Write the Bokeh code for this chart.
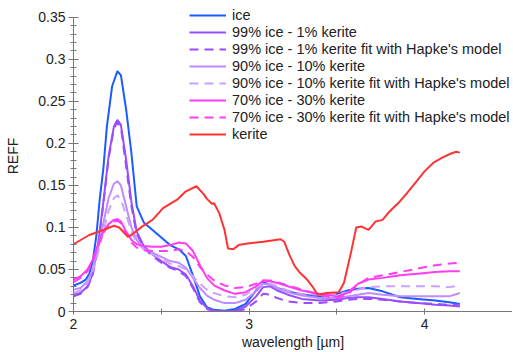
from bokeh.plotting import figure
from bokeh.models import Range1d, FixedTicker, Legend, LegendItem
from bokeh.embed import file_html
from bokeh.resources import INLINE

# ---------------- data ----------------
x_ticks = [2, 3, 4]
x_tick_labels = ["2", "3", "4"]
x_minor = [2.5, 3.5, 4.5]
y_ticks = [0, 0.05, 0.1, 0.15, 0.2, 0.25, 0.3, 0.35]
y_tick_labels = ["0", "0.05", "0.1", "0.15", "0.2", "0.25", "0.3", "0.35"]
y_minor = [round(i * 0.01, 2) for i in range(36)]

ice_x = [2.00, 2.04, 2.07, 2.09, 2.11, 2.13, 2.15, 2.17, 2.19, 2.22,
         2.25, 2.27, 2.30, 2.33, 2.36, 2.40, 2.45, 2.50, 2.55, 2.60,
         2.64, 2.68, 2.72, 2.76, 2.80, 2.86, 2.92, 2.98, 3.04, 3.08,
         3.12, 3.16, 3.22, 3.30, 3.40, 3.50, 3.56, 3.62, 3.68, 3.76,
         3.86, 3.96, 4.06, 4.14, 4.20]
ice_y = [0.031, 0.034, 0.038, 0.045, 0.060, 0.090, 0.135, 0.170, 0.220, 0.268,
         0.286, 0.281, 0.240, 0.188, 0.125, 0.106, 0.097, 0.088, 0.079, 0.074,
         0.066, 0.043, 0.018, 0.005, 0.002, 0.001, 0.003, 0.009, 0.025, 0.035,
         0.032, 0.028, 0.024, 0.020, 0.018, 0.021, 0.025, 0.027, 0.028, 0.024,
         0.017, 0.015, 0.013, 0.011, 0.009]

mix_x = [2.00, 2.04, 2.08, 2.11, 2.14, 2.17, 2.20, 2.23, 2.25, 2.27,
         2.30, 2.33, 2.36, 2.40, 2.45, 2.50, 2.55, 2.60, 2.64, 2.68,
         2.72, 2.76, 2.80, 2.86, 2.92, 2.98, 3.04, 3.08, 3.12, 3.16,
         3.22, 3.30, 3.40, 3.50, 3.56, 3.62, 3.68, 3.76, 3.86, 3.96,
         4.06, 4.14, 4.20]
mix99 = [0.020, 0.022, 0.030, 0.045, 0.080, 0.130, 0.185, 0.220, 0.228, 0.222,
         0.180, 0.130, 0.095, 0.078, 0.068, 0.060, 0.053, 0.050, 0.044, 0.030,
         0.013, 0.004, 0.001, 0.000, 0.001, 0.006, 0.018, 0.029, 0.030, 0.025,
         0.020, 0.015, 0.013, 0.014, 0.016, 0.017, 0.017, 0.015, 0.012, 0.010,
         0.008, 0.007, 0.006]
mix99_fit = [0.018, 0.021, 0.029, 0.044, 0.078, 0.128, 0.182, 0.218, 0.225, 0.219,
             0.172, 0.125, 0.092, 0.076, 0.066, 0.058, 0.052, 0.048, 0.042, 0.028,
             0.011, 0.003, 0.000, 0.000, 0.000, 0.003, 0.012, 0.021, 0.020, 0.016,
             0.012, 0.010, 0.010, 0.012, 0.014, 0.015, 0.015, 0.014, 0.012, 0.010,
             0.009, 0.008, 0.008]
mix90 = [0.026, 0.028, 0.036, 0.050, 0.075, 0.105, 0.135, 0.152, 0.155, 0.150,
         0.125, 0.100, 0.085, 0.075, 0.070, 0.065, 0.060, 0.058, 0.052, 0.040,
         0.028, 0.019, 0.014, 0.010, 0.010, 0.014, 0.024, 0.033, 0.032, 0.028,
         0.023, 0.019, 0.016, 0.016, 0.018, 0.020, 0.022, 0.020, 0.018, 0.018,
         0.018, 0.018, 0.022]
mix90_fit = [0.022, 0.025, 0.034, 0.048, 0.070, 0.095, 0.120, 0.135, 0.138, 0.133,
             0.115, 0.095, 0.082, 0.074, 0.068, 0.063, 0.057, 0.054, 0.050, 0.042,
             0.033, 0.026, 0.022, 0.018, 0.017, 0.020, 0.028, 0.034, 0.033, 0.030,
             0.025, 0.021, 0.020, 0.021, 0.023, 0.026, 0.029, 0.030, 0.030, 0.030,
             0.030, 0.029, 0.031]
mix70 = [0.038, 0.042, 0.050, 0.062, 0.080, 0.095, 0.104, 0.109, 0.110, 0.107,
         0.095, 0.085, 0.080, 0.078, 0.077, 0.077, 0.079, 0.082, 0.081, 0.072,
         0.055, 0.040, 0.031, 0.025, 0.021, 0.023, 0.030, 0.037, 0.036, 0.034,
         0.030, 0.025, 0.021, 0.018, 0.022, 0.033, 0.038, 0.040, 0.043, 0.045,
         0.047, 0.048, 0.048]
mix70_fit = [0.035, 0.040, 0.048, 0.060, 0.078, 0.093, 0.103, 0.107, 0.108, 0.105,
             0.093, 0.082, 0.076, 0.073, 0.072, 0.072, 0.072, 0.074, 0.072, 0.065,
             0.053, 0.044, 0.037, 0.031, 0.028, 0.029, 0.033, 0.037, 0.037, 0.035,
             0.031, 0.026, 0.020, 0.016, 0.020, 0.032, 0.040, 0.043, 0.047, 0.051,
             0.055, 0.057, 0.058]

kerite_x = [2.00, 2.09, 2.17, 2.23, 2.26, 2.31, 2.33, 2.39, 2.45, 2.51,
            2.59, 2.64, 2.70, 2.74, 2.76, 2.79, 2.80, 2.83, 2.86, 2.88,
            2.91, 2.94, 2.99, 3.08, 3.18, 3.20, 3.23, 3.26, 3.29, 3.33,
            3.36, 3.39, 3.44, 3.51, 3.54, 3.58, 3.61, 3.64, 3.68, 3.72,
            3.76, 3.80, 3.85, 3.90, 3.95, 4.00, 4.05, 4.10, 4.15, 4.18, 4.20]
kerite_y = [0.080, 0.091, 0.097, 0.102, 0.100, 0.089, 0.091, 0.101, 0.109, 0.123,
            0.133, 0.143, 0.149, 0.140, 0.134, 0.128, 0.129, 0.117, 0.097, 0.075,
            0.074, 0.079, 0.081, 0.083, 0.086, 0.083, 0.067, 0.054, 0.046, 0.038,
            0.030, 0.020, 0.022, 0.023, 0.034, 0.070, 0.100, 0.101, 0.097, 0.107,
            0.109, 0.119, 0.129, 0.141, 0.154, 0.167, 0.177, 0.183, 0.188, 0.190, 0.189]

series = [
    ("ice", ice_x, ice_y, "#1a5cff", "solid"),
    ("99% ice - 1% kerite", mix_x, mix99, "#9a4cff", "solid"),
    ("99% ice - 1% kerite fit with Hapke's model", mix_x, mix99_fit, "#9a4cff", "9 6"),
    ("90% ice - 10% kerite", mix_x, mix90, "#bf8cff", "solid"),
    ("90% ice - 10% kerite fit with Hapke's model", mix_x, mix90_fit, "#c9a2ff", "9 6"),
    ("70% ice - 30% kerite", mix_x, mix70, "#ff3df2", "solid"),
    ("70% ice - 30% kerite fit with Hapke's model", mix_x, mix70_fit, "#ff3df2", "9 6"),
    ("kerite", kerite_x, kerite_y, "#ff3333", "solid"),
]

FONT = "Liberation Sans"

p = figure(frame_width=439, frame_height=311,
           min_border_left=73, min_border_right=0, min_border_top=0, min_border_bottom=38,
           x_range=Range1d(2, 4.5), y_range=Range1d(0, 0.37),
           output_backend="svg", toolbar_location=None, tools="")
p.outline_line_color = None
p.xgrid.visible = False
p.ygrid.visible = False
p.background_fill_color = "white"

items = []
for label, xs, ys, color, dash in series:
    r = p.line(xs, ys, line_color=color, line_width=2, line_dash=dash)
    items.append(LegendItem(label=label, renderers=[r]))

legend = Legend(items=items, location=(116, 169), glyph_width=37, glyph_height=16,
                label_height=16, label_standoff=6, spacing=1, padding=0, margin=0,
                border_line_color=None, background_fill_alpha=0,
                label_text_font=FONT, label_text_font_size="14.5px",
                label_text_color="#222222")
p.add_layout(legend)

axis_col = "#777777"
for ax in (p.xaxis[0], p.yaxis[0]):
    ax.axis_line_color = axis_col
    ax.major_tick_line_color = axis_col
    ax.minor_tick_line_color = axis_col
    ax.major_label_text_font = FONT
    ax.major_label_text_font_size = "14px"
    ax.major_label_text_color = "#222222"
    ax.axis_label_text_font = FONT
    ax.axis_label_text_font_size = "14px"
    ax.axis_label_text_font_style = "normal"
    ax.axis_label_text_color = "#222222"

p.xaxis.ticker = FixedTicker(ticks=x_ticks, minor_ticks=x_minor)
p.xaxis.major_label_overrides = {t: l for t, l in zip(x_ticks, x_tick_labels)}
p.xaxis.major_tick_in = 3
p.xaxis.major_tick_out = 3
p.xaxis.minor_tick_in = 3
p.xaxis.minor_tick_out = 3
p.xaxis.major_label_standoff = 4
p.xaxis.axis_label = "wavelength [µm]"
p.xaxis.axis_label_standoff = 2

p.yaxis.bounds = (0, 0.35)
p.yaxis.ticker = FixedTicker(ticks=y_ticks, minor_ticks=y_minor)
p.yaxis.major_label_overrides = {t: l for t, l in zip(y_ticks, y_tick_labels)}
p.yaxis.major_tick_in = 5
p.yaxis.major_tick_out = 5
p.yaxis.minor_tick_in = 3
p.yaxis.minor_tick_out = 3
p.yaxis.major_label_standoff = 3
p.yaxis.axis_label = "REFF"
p.yaxis.axis_label_standoff = 14

open("out.html", "w").write(file_html(p, INLINE))
